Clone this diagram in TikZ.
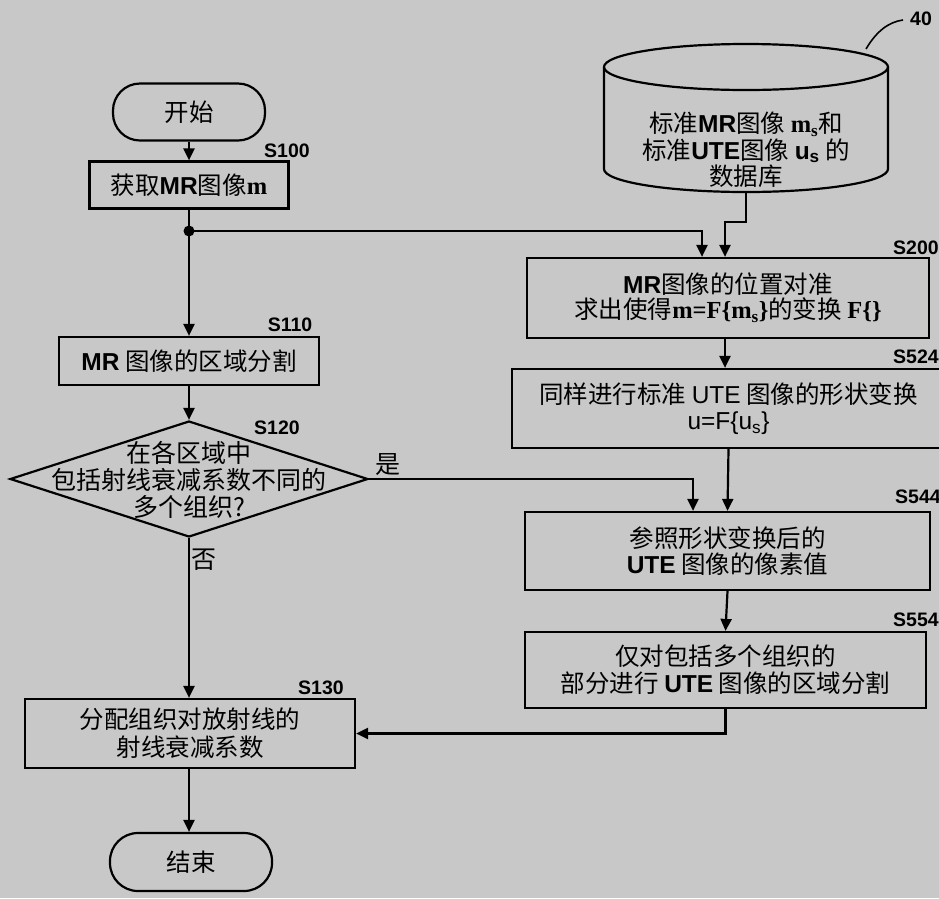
\documentclass[tikz,border=0pt]{standalone}
\usepackage{fontspec}
\setmainfont{Noto Sans CJK SC}
\newfontfamily\lat{Liberation Sans}
\newfontfamily\ser{Liberation Serif}
\usetikzlibrary{arrows.meta,shapes.geometric}
\definecolor{bgc}{RGB}{200,200,200}
\newcommand{\MRb}{{\lat\bfseries MR}}
\newcommand{\UTEb}{{\lat\bfseries UTE}}
\begin{document}
\begin{tikzpicture}[x=1pt,y=-1pt,line width=2.2pt,
  >={Triangle[length=12pt,width=11pt]},
  txt/.style={font=\fontsize{25}{27}\selectfont,align=center,inner sep=0pt},
  box/.style={draw,rectangle,inner sep=0pt,align=center,font=\fontsize{24.5}{26}\selectfont},
  term/.style={draw,rectangle,rounded corners=27pt,inner sep=0pt,font=\fontsize{24.5}{26}\selectfont},
  lbl/.style={font=\lat\bfseries\fontsize{19.5}{20}\selectfont,inner sep=0pt}]
\fill[bgc] (0,0) rectangle (939,898);
\useasboundingbox (0,0) rectangle (939,898);

% left column
\node[term,minimum width=152pt,minimum height=57pt] (start) at (189,112) {开始};
\node[box,minimum width=199pt,minimum height=47pt] (s100) at (189,185) {获取\MRb 图像{\ser\bfseries m}};
\node[lbl] (l100) at (287,151) {S100};
\fill (189,231) circle (5.5pt) coordinate (dot);
\node[box,minimum width=260pt,minimum height=48pt] (s110) at (189,361) {\MRb\ 图像的区域分割};
\node[lbl] (l110) at (290,325) {S110};
\node[draw,diamond,inner sep=0pt,minimum width=358pt,minimum height=116pt] (dec) at (189,479) {};
\node[txt] (dect) at (189,480) {在各区域中\\包括射线衰减系数不同的\\多个组织?};
\node[lbl] (l120) at (277,428) {S120};
\node[txt] (yes) at (388,465) {是};
\node[txt] (no) at (204,560) {否};
\node[box,minimum width=330pt,minimum height=69pt,font=\fontsize{24.5}{28}\selectfont] (s130) at (190,733.5) {分配组织对放射线的\\射线衰减系数};
\node[lbl] (l130) at (321,688) {S130};
\node[term,minimum width=162pt,minimum height=58pt,rounded corners=28pt] (end) at (191,862) {结束};

% database cylinder
\draw (746,67) ellipse [x radius=142,y radius=23];
\draw (604,67) -- (604,169) arc[start angle=180,end angle=0,x radius=142,y radius=23] -- (888,67);
\coordinate (dbb) at (746,192);
\node[txt,font=\fontsize{24.5}{26.5}\selectfont] (db) at (746,150) {标准\MRb 图像 {\ser\bfseries m}\textsubscript{\ser\bfseries s}和\\标准{\lat\bfseries UTE}图像 {\lat\bfseries u}\textsubscript{\lat\bfseries s} 的\\数据库};
\draw[line width=1.6pt] (866,49) .. controls (876,32) and (888,22) .. (903,20);
\node[lbl] (l40) at (921,19) {40};

% right column
\node[box,minimum width=402pt,minimum height=80pt,font=\fontsize{24.5}{25}\selectfont] (s200) at (728,298) {\MRb 图像的位置对准\\求出使得{\ser\bfseries m=F\{m\textsubscript{s}\}}的变换 {\ser\bfseries F\{\}}};
\node[lbl] (l200) at (916,248) {S200};
\node[box,minimum width=433pt,minimum height=79pt,font=\fontsize{24.5}{26}\selectfont] (s524) at (728.5,408.5) {同样进行标准 {\lat UTE} 图像的形状变换\\{\lat u=F\{u\textsubscript{s}\}}};
\node[lbl] (l524) at (916,357) {S524};
\node[box,minimum width=405pt,minimum height=78pt,font=\fontsize{24.5}{26}\selectfont] (s544) at (727.5,551) {参照形状变换后的\\\UTEb\ 图像的像素值};
\node[lbl] (l544) at (918,497) {S544};
\node[box,minimum width=401pt,minimum height=76pt,font=\fontsize{24.5}{27}\selectfont] (s554) at (725.5,670) {仅对包括多个组织的\\部分进行 \UTEb\ 图像的区域分割};
\node[lbl] (l554) at (916,620) {S554};

% connectors
\draw[->] (start) -- (s100);
\draw (s100.south) -- (dot);
\draw[->] (dot) -- (s110.north);
\draw[->] (dot) -| ([xshift=-26pt]s200.north);
\draw[->] (dbb) -- ++(0,30) -| ([xshift=-3pt]s200.north);
\draw[->] (s110.south) -- (dec.north);
\draw[->] (dec.south) -- (s130.north -| dec.south);
\draw[->] (dec.east) -| ([xshift=-34.5pt]s544.north);
\draw[->] ([xshift=-3pt]s200.south) -- ([xshift=-3.5pt]s524.north);
\draw[->] (s524.south) -- (s544.north);
\draw[->] (s544.south) -- (s554.north);
\draw[->] (s554.south) |- (s130.east);
\draw[->] (s130.south -| dec.south) -- (end.north -| dec.south);
\end{tikzpicture}
\end{document}
